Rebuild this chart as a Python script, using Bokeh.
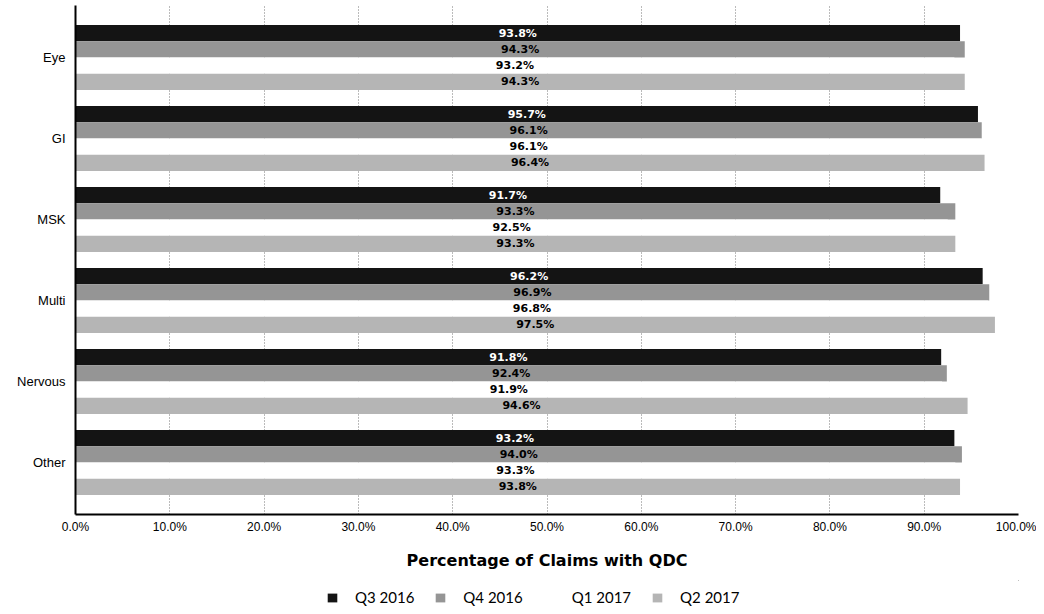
from bokeh.plotting import figure
from bokeh.layouts import column
from bokeh.models import (FactorRange, Range1d, FixedTicker, PrintfTickFormatter,
                          ColumnDataSource, Legend, LegendItem)
from bokeh.transform import dodge
from bokeh.core.properties import value
from bokeh.embed import file_html
from bokeh.resources import INLINE

categories = ["Eye", "GI", "MSK", "Multi", "Nervous", "Other"]
series = ["Q3 2016", "Q4 2016", "Q1 2017", "Q2 2017"]
q3_2016 = [93.8, 95.7, 91.7, 96.2, 91.8, 93.2]
q4_2016 = [94.3, 96.1, 93.3, 96.9, 92.4, 94.0]
q1_2017 = [93.2, 96.1, 92.5, 96.8, 91.9, 93.3]
q2_2017 = [94.3, 96.4, 93.3, 97.5, 94.6, 93.8]
x_ticks = [0, 10, 20, 30, 40, 50, 60, 70, 80, 90, 100]

values = [q3_2016, q4_2016, q1_2017, q2_2017]
fills = ["#141414", "#959595", "#ffffff", "#b5b5b5"]
text_colors = ["#ffffff", "#000000", "#000000", "#000000"]
offsets = [0.3, 0.1, -0.1, -0.3]

FONT = "Liberation Sans"
BOLD = "DejaVu Sans"

p = figure(width=1036, height=580, output_backend="svg", toolbar_location=None,
           y_range=FactorRange(factors=categories[::-1], range_padding=0.142,
                               range_padding_units="absolute"),
           x_range=Range1d(0, 100),
           min_border_left=75, min_border_right=18, min_border_top=5,
           min_border_bottom=66)
p.outline_line_color = None
p.background_fill_color = "white"

# separate strip for the legend (legends inside a frame are clipped to it)
leg = figure(width=1036, height=26, output_backend="svg", toolbar_location=None,
             x_axis_type=None, y_axis_type=None, x_range=Range1d(0, 1),
             y_range=Range1d(0, 1), min_border=0)
leg.outline_line_color = None
leg.xgrid.visible = False
leg.ygrid.visible = False

items = []
for name, vals, fc, tc, off in zip(series, values, fills, text_colors, offsets):
    src = ColumnDataSource(dict(cat=categories, val=vals,
                                mid=[v / 2 for v in vals],
                                lab=["%.1f%%" % v for v in vals]))
    p.hbar(y=dodge("cat", off, range=p.y_range), right="val", left=0, height=0.2,
           source=src, fill_color=fc, line_color=None)
    p.text(x="mid", y=dodge("cat", off, range=p.y_range), text="lab", source=src,
           text_align="center", text_baseline="middle", text_color=tc,
           text_font=value(BOLD), text_font_style="bold", text_font_size="11px")
    # swatch renderer: lies outside the strip's ranges, only feeds the legend
    swatch = leg.hbar(y="val", right="val", left="val", height=0.5, source=src,
                      fill_color=fc, line_color=None)
    items.append(LegendItem(label=name, renderers=[swatch]))

p.xaxis.ticker = FixedTicker(ticks=x_ticks)
p.xaxis.formatter = PrintfTickFormatter(format="%.1f%%")
p.xaxis.axis_label = "Percentage of Claims with QDC"
p.xaxis.axis_label_text_font = BOLD
p.xaxis.axis_label_text_font_style = "bold"
p.xaxis.axis_label_text_font_size = "16px"
p.xaxis.axis_label_text_color = "black"
p.xaxis.axis_label_standoff = 14
p.xaxis.major_label_text_font = FONT
p.xaxis.major_label_text_font_size = "12px"
p.xaxis.major_label_text_color = "black"
p.xaxis.major_label_standoff = 5
p.xaxis.major_tick_out = 0
p.xaxis.major_tick_in = 0
p.xaxis.minor_tick_out = 0
p.xaxis.minor_tick_in = 0
p.xaxis.axis_line_color = "black"
p.xaxis.axis_line_width = 2

p.yaxis.major_label_text_font = FONT
p.yaxis.major_label_text_font_size = "13px"
p.yaxis.major_label_text_color = "black"
p.yaxis.major_label_standoff = 10
p.yaxis.major_tick_out = 0
p.yaxis.major_tick_in = 0
p.yaxis.axis_line_color = "black"
p.yaxis.axis_line_width = 2

p.ygrid.grid_line_color = None
p.xgrid.ticker = FixedTicker(ticks=x_ticks)
p.xgrid.grid_line_color = "#777777"
p.xgrid.grid_line_dash = "1 2"
p.xgrid.grid_line_width = 1
p.xgrid.level = "underlay"

legend = Legend(items=items, orientation="horizontal", location=(251, 0),
                label_text_font="Lato", label_text_font_size="15px",
                label_text_color="black", label_height=14,
                glyph_width=12, glyph_height=11, label_standoff=17, spacing=20,
                border_line_color=None, background_fill_alpha=0, margin=0, padding=0)
leg.add_layout(legend)

layout = column(p, leg, spacing=0)
open("out.html", "w").write(file_html(layout, INLINE))
